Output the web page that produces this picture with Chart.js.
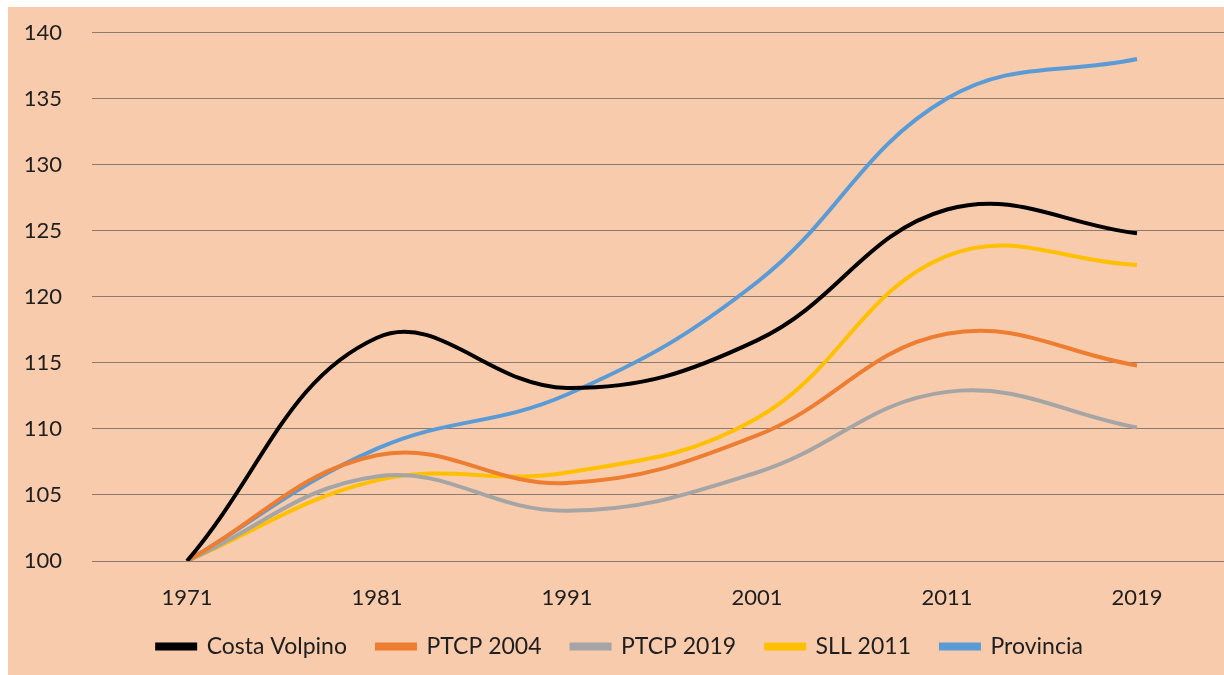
<!DOCTYPE html>
<html>
<head>
<meta charset="utf-8">
<script src="https://cdn.jsdelivr.net/npm/chart.js@4.4.0/dist/chart.umd.min.js"></script>
<style>
    body { margin: 0; background: #ffffff; }
    #wrap {
        position: absolute; left: 8px; top: 7px;
        width: 1216px; height: 668px;
        background: #f8cbad; overflow: hidden;
    }
    #chart { display: block; }
</style>
</head>
<body>
<div id="wrap"><canvas id="chart" width="1226" height="668"></canvas></div>
<script>
// --- Data (index, 1971 = 100) ---
const years = ['1971', '1981', '1991', '2001', '2011', '2019'];
const costaVolpino = [100, 116.9, 113.1, 116.7, 126.6, 124.8];
const ptcp2004 = [100, 108.0, 105.9, 109.5, 117.2, 114.8];
const ptcp2019 = [100, 106.4, 103.8, 106.7, 112.8, 110.1];
const sll2011 = [100, 106.1, 106.7, 110.8, 123.1, 122.4];
const provincia = [100, 108.5, 112.6, 121.1, 135.0, 138.0];
const yTicks = [100, 105, 110, 115, 120, 125, 130, 135, 140];

const FONT = 'Lato, "Open Sans", sans-serif';
const GRID = '#8a7b70';
const TEXT = '#1e1e1e';
const LEGEND_H = 64;

const line = (label, data, color) => ({
    label: label,
    data: data,
    borderColor: color,
    backgroundColor: color,
    borderWidth: 4,
    pointRadius: 0,
    tension: 0.4,
    fill: false
});

// keep the legend band short while still spacing the items widely
const legendHeight = {
    id: 'legendHeight',
    beforeLayout(chart) {
        const lg = chart.legend;
        if (lg && !lg._patched) {
            const fit = lg.fit;
            lg.fit = function () { fit.call(this); this.height = LEGEND_H; };
            lg._patched = true;
        }
    }
};

new Chart(document.getElementById('chart').getContext('2d'), {
    type: 'line',
    data: {
        labels: years,
        datasets: [
            line('Costa Volpino', costaVolpino, '#000000'),
            line('PTCP 2004', ptcp2004, '#ed7d31'),
            line('PTCP 2019', ptcp2019, '#a5a5a5'),
            line('SLL 2011', sll2011, '#ffc000'),
            line('Provincia', provincia, '#5b9bd5')
        ]
    },
    plugins: [legendHeight],
    options: {
        responsive: false,
        animation: false,
        layout: { padding: { top: 25.5, right: 2, bottom: 6, left: 0 } },
        plugins: {
            tooltip: { enabled: false },
            legend: {
                position: 'bottom',
                labels: {
                    font: { family: FONT, size: 23 },
                    color: TEXT,
                    boxWidth: 38,
                    boxHeight: 4,
                    padding: 30
                }
            }
        },
        scales: {
            x: {
                offset: true,
                afterFit: (scale) => { scale.height = 44; },
                grid: { display: false, drawTicks: false },
                border: { display: false },
                ticks: {
                    font: { family: FONT, size: 22 },
                    color: TEXT,
                    padding: 24
                }
            },
            y: {
                min: 100,
                max: 140,
                afterFit: (scale) => { scale.width = 84; },
                afterBuildTicks: (scale) => {
                    scale.ticks = yTicks.map(v => ({ value: v }));
                },
                grid: { color: GRID, lineWidth: 1, tickLength: 30, tickColor: 'rgba(0,0,0,0)' },
                border: { display: false },
                ticks: {
                    font: { family: FONT, size: 22 },
                    color: TEXT,
                    padding: 0
                }
            }
        }
    }
});
</script>
</body>
</html>
